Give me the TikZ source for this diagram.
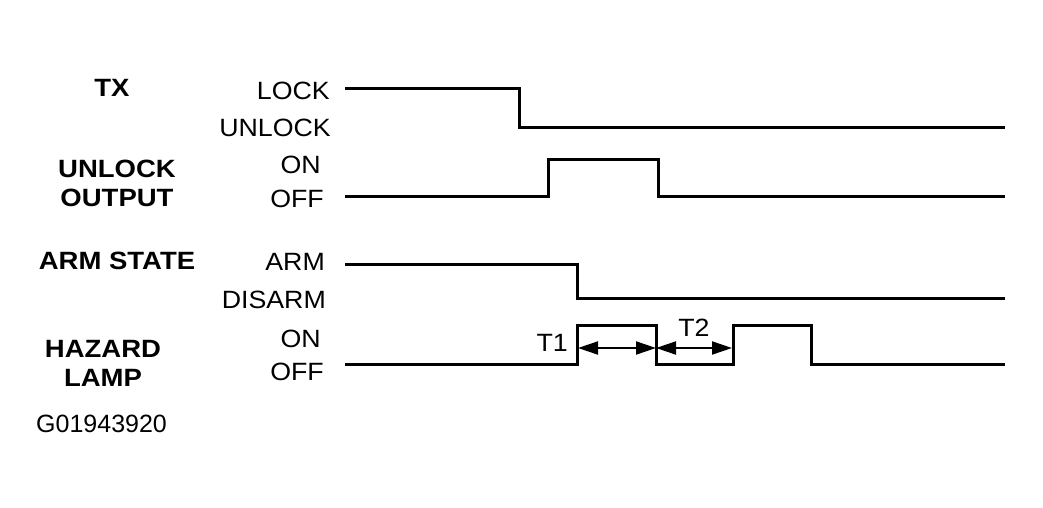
\documentclass[tikz,border=0pt]{standalone}
\usepackage{fontspec}
\setmainfont{Liberation Sans}
\newfontfamily\boldlab[FakeStretch=1.1]{Liberation Sans Bold}
\newfontfamily\reglab[FakeStretch=1.07]{Liberation Sans}
\usetikzlibrary{arrows.meta}
\tikzset{
  sig/.style={line width=3pt},
  signame/.style={font=\fontsize{25}{29}\boldlab,align=center,inner sep=0pt},
  lvl/.style={font=\fontsize{25}{29}\reglab,anchor=east,inner sep=0pt},
  tlbl/.style={font=\fontsize{25}{29}\reglab,inner sep=0pt},
  span/.style={line width=2pt,{Triangle[length=20pt,width=13pt]}-{Triangle[length=20pt,width=13pt]}}
}
\begin{document}
\begin{tikzpicture}[x=1pt,y=-1pt]
  \useasboundingbox (0,0) rectangle (1043,508);
  % signal names
  \node[signame] (tx) at (112,88) {TX};
  \node[signame] (unl) at (117,183) {UNLOCK\\OUTPUT};
  \node[signame] (arm) at (117,261) {ARM STATE};
  \node[signame] (haz) at (103,363) {HAZARD\\LAMP};
  \node[font=\fontsize{25}{29}\selectfont,inner sep=0pt,anchor=west] (fig) at (36,424) {G01943920};
  % levels
  \node[lvl] (lock) at (330,91) {LOCK};
  \node[lvl] (unlock) at (331,128) {UNLOCK};
  \node[lvl] (on1) at (321,165) {ON};
  \node[lvl] (off1) at (324,199) {OFF};
  \node[lvl] (armlv) at (325,262) {ARM};
  \node[lvl] (disarm) at (326,300) {DISARM};
  \node[lvl] (on2) at (321,339) {ON};
  \node[lvl] (off2) at (324,372) {OFF};
  % waveforms
  \draw[sig] (345,89) -- (519,89) -- (519,127) -- (1005,127);
  \draw[sig] (345,196) -- (548,196) -- (548,159) -- (658,159) -- (658,196) -- (1005,196);
  \draw[sig] (345,264) -- (577,264) -- (577,298) -- (1005,298);
  \draw[sig] (345,364) -- (577,364) -- (577,325) -- (656,325) -- (656,364)
    -- (733,364) -- (733,325) -- (811,325) -- (811,364) -- (1005,364);
  % timing
  \coordinate (t0) at (578,348);
  \coordinate (t1) at (656,348);
  \coordinate (t2) at (732,348);
  \draw[span] (t0) -- (t1);
  \draw[span] (t1) -- (t2);
  \node[tlbl,anchor=east] (t1lbl) at (568,343) {T1};
  \node[tlbl] (t2lbl) at (694,328) {T2};
\end{tikzpicture}
\end{document}
